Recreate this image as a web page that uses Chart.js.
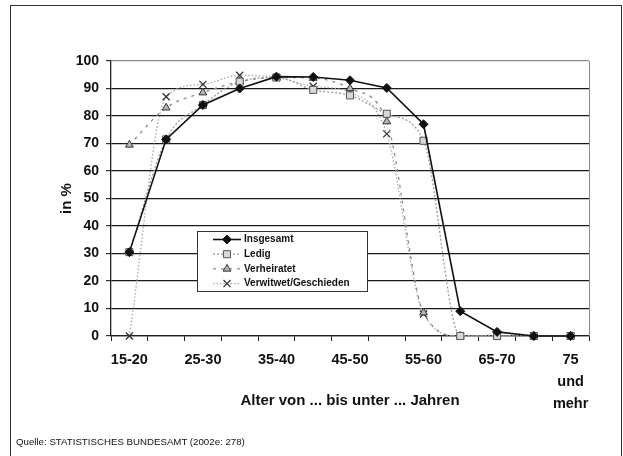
<!DOCTYPE html>
<html>
<head>
<meta charset="utf-8">
<script src="https://cdn.jsdelivr.net/npm/chart.js@4.4.1/dist/chart.umd.min.js"></script>
<style>
  html, body { margin: 0; padding: 0; background: #fff; }
  #wrap { position: relative; width: 623px; height: 456px; overflow: hidden; }
  #frame { position: absolute; left: 10px; top: 5px; width: 612px; height: 480px;
           border: 1.5px solid #333; box-sizing: border-box; }
  #chart { position: absolute; left: 0; top: 0; }
  #source { position: absolute; left: 16px; top: 436px; color: #111;
            font: 9.7px "Liberation Sans", Arial, sans-serif; white-space: nowrap; }
</style>
</head>
<body>
<div id="wrap">
  <div id="frame"></div>
  <canvas id="chart" width="623" height="456"></canvas>
  <div id="source">Quelle: STATISTISCHES BUNDESAMT (2002e: 278)</div>
</div>
<script>
// Age groups (x axis)
const categories = ['15-20', '20-25', '25-30', '30-35', '35-40', '40-45', '45-50',
                    '50-55', '55-60', '60-65', '65-70', '70-75', '75 und mehr'];

// Employment rate in % by marital status
const insgesamt   = [30.5, 71.5, 84.0, 90.0, 94.3, 94.2, 93.0, 90.2, 77.0, 9.0, 1.5, 0, 0];
const ledig       = [30.5, 71.5, 84.0, 92.5, 94.0, 89.5, 87.5, 80.8, 71.0, 0, 0, 0, 0];
const verheiratet = [69.5, 83.0, 88.5, 92.5, 94.0, 93.8, 90.0, 78.0, 8.5, 0, 0, 0, 0];
const verwitwet   = [0, 87.0, 91.5, 94.8, 94.0, 90.8, 88.5, 73.5, 8.0, 0, 0, 0, 0];

const seriesNames = ['Insgesamt', 'Ledig', 'Verheiratet', 'Verwitwet/Geschieden'];
const yTitle = 'in %';
const xTitle = 'Alter von ... bis unter ... Jahren';

const FONT = '"Liberation Sans", Arial, Helvetica, sans-serif';

// thin grey line closing the plot area on the right
const plotFrame = {
  id: 'plotFrame',
  beforeDatasetsDraw(chart) {
    const { ctx, chartArea: a } = chart;
    ctx.save();
    ctx.strokeStyle = '#8a8a8a';
    ctx.lineWidth = 1;
    const x = Math.round(a.right) + 0.5;
    ctx.beginPath();
    ctx.moveTo(x, a.top);
    ctx.lineTo(x, a.bottom);
    ctx.stroke();
    ctx.restore();
  }
};

// boxed legend inside the plot area
const boxLegend = {
  id: 'boxLegend',
  afterDatasetsDraw(chart) {
    const { ctx, chartArea: a } = chart;
    const x0 = a.left + 86, y0 = a.top + 170, w = 170, h = 60;
    ctx.save();
    ctx.fillStyle = '#fff';
    ctx.fillRect(x0, y0, w, h);
    ctx.strokeStyle = '#333';
    ctx.lineWidth = 1;
    ctx.strokeRect(x0 + 0.5, y0 + 0.5, w, h);
    chart.data.datasets.forEach((ds, i) => {
      const y = y0 + 8.5 + i * 14.7;
      ctx.save();
      ctx.strokeStyle = ds.borderColor;
      ctx.lineWidth = ds.borderWidth;
      ctx.setLineDash(ds.borderDash || []);
      ctx.beginPath();
      ctx.moveTo(x0 + 16, y);
      ctx.lineTo(x0 + 44, y);
      ctx.stroke();
      ctx.restore();
      ctx.save();
      ctx.fillStyle = ds.pointBackgroundColor;
      ctx.strokeStyle = ds.pointBorderColor;
      ctx.lineWidth = ds.pointBorderWidth;
      Chart.helpers.drawPoint(ctx, {
        pointStyle: ds.pointStyle, radius: ds.pointRadius,
        borderWidth: ds.pointBorderWidth, rotation: 0
      }, x0 + 30, y);
      ctx.restore();
      ctx.fillStyle = '#111';
      ctx.font = 'bold 10px ' + FONT;
      ctx.textBaseline = 'middle';
      ctx.textAlign = 'left';
      ctx.fillText(ds.label, x0 + 47, y);
    });
    ctx.restore();
  }
};

new Chart(document.getElementById('chart'), {
  type: 'line',
  data: {
    labels: categories,
    datasets: [
      {
        label: seriesNames[0], data: insgesamt,
        borderColor: '#111', borderWidth: 1.6, tension: 0,
        pointStyle: 'rectRot', pointRadius: 4.5,
        pointBackgroundColor: '#111', pointBorderColor: '#111', pointBorderWidth: 1,
        clip: false
      },
      {
        label: seriesNames[1], data: ledig,
        borderColor: '#9a9a9a', borderWidth: 1.3, borderDash: [2, 2],
        cubicInterpolationMode: 'monotone',
        pointStyle: 'rect', pointRadius: 5,
        pointBackgroundColor: '#d8d8d8', pointBorderColor: '#555', pointBorderWidth: 1,
        clip: false
      },
      {
        label: seriesNames[2], data: verheiratet,
        borderColor: '#8a8a8a', borderWidth: 1.3, borderDash: [3, 5],
        cubicInterpolationMode: 'monotone',
        pointStyle: 'triangle', pointRadius: 4.5,
        pointBackgroundColor: '#b5b5b5', pointBorderColor: '#333', pointBorderWidth: 1,
        clip: false
      },
      {
        label: seriesNames[3], data: verwitwet,
        borderColor: '#a8a8a8', borderWidth: 1.3, borderDash: [1.5, 2],
        cubicInterpolationMode: 'monotone',
        pointStyle: 'crossRot', pointRadius: 5,
        pointBackgroundColor: '#333', pointBorderColor: '#333', pointBorderWidth: 1.3,
        clip: false
      }
    ]
  },
  options: {
    responsive: false,
    animation: false,
    devicePixelRatio: 1,
    layout: { padding: { top: 61, right: 34, left: 0, bottom: 0 } },
    plugins: { legend: { display: false }, tooltip: { enabled: false } },
    scales: {
      x: {
        offset: true,
        afterFit(scale) { scale.height = 120; },
        grid: { display: true, drawOnChartArea: false, offset: true, tickLength: 5,
                color: '#222', tickColor: '#222' },
        border: { display: true, color: '#222', width: 1.3 },
        ticks: {
          autoSkip: false, maxRotation: 0, minRotation: 0, padding: 8,
          color: '#111',
          font: { family: FONT, size: 14.5, weight: 'bold', lineHeight: 1.52 },
          callback(value, index) {
            if (index % 2) return '';
            const lbl = categories[index];
            return lbl.includes(' ') ? lbl.split(' ') : lbl;
          }
        },
        title: {
          display: true, text: xTitle, color: '#111',
          font: { family: FONT, size: 15, weight: 'bold' },
          padding: { top: 0, bottom: 46 }
        }
      },
      y: {
        min: 0, max: 100,
        afterFit(scale) { scale.width = 111; },
        grid: {
          tickLength: 5, lineWidth: 1.2,
          color: (c) => (c.tick && c.tick.value === 100 ? '#8a8a8a' : '#1a1a1a'),
          tickColor: '#333'
        },
        border: { display: true, color: '#222', width: 1.3 },
        ticks: {
          stepSize: 10, padding: 7, color: '#111',
          font: { family: FONT, size: 14, weight: 'bold' }
        },
        title: {
          display: true, text: yTitle, color: '#111',
          font: { family: FONT, size: 15, weight: 'bold' },
          padding: { top: 58, bottom: 0 }
        }
      }
    }
  },
  plugins: [plotFrame, boxLegend]
});
</script>
</body>
</html>
